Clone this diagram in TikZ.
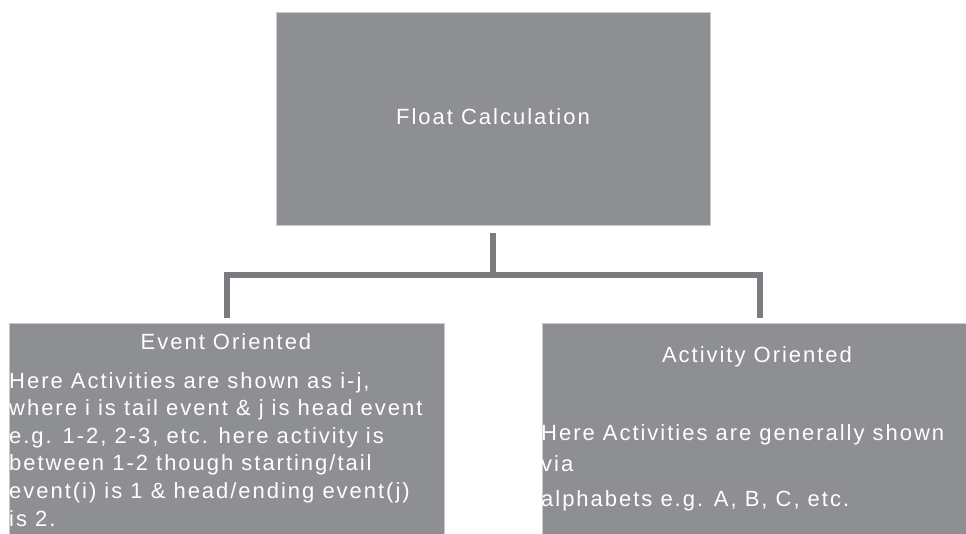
\documentclass[tikz,border=0pt]{standalone}
\usepackage{fontspec}
\setmainfont{Liberation Sans}[LetterSpace=9]
\definecolor{boxgray}{HTML}{8E8F93}
\definecolor{linegray}{HTML}{7B7C80}
\definecolor{edgegray}{HTML}{C9CACC}

\begin{document}
\begin{tikzpicture}[x=1pt, y=-1pt,
  box/.style={fill=boxgray, draw=edgegray, line width=0.8pt, inner sep=0pt, anchor=north west},
  conn/.style={draw=linegray, line width=6pt, line join=miter},
  lbl/.style={text=white, inner sep=0pt, font=\fontsize{22}{27.6}\selectfont},
  body/.style={lbl, align=left, anchor=base west}]
\useasboundingbox (0,0) rectangle (966,533);

% boxes
\node[box, minimum width=434pt, minimum height=213pt] (top) at (276,12) {};
\node[box, minimum width=435pt, minimum height=230pt] (left) at (9,323) {};
\node[box, minimum width=436pt, minimum height=230pt] (right) at (542,323) {};

% connector tree
\coordinate (bar) at (493,275);
\draw[conn] ([yshift=-7pt]top.south) -- (top.south |- bar);
\draw[conn] ([yshift=5pt]left.north) |- (bar) -| ([yshift=5pt]right.north);

% texts
\node[lbl] (toptxt) at (493,117) {Float Calculation};
\node[lbl] (lefttitle) at (226,342) {Event Oriented};
\node[lbl] (righttitle) at (757,357) {Activity Oriented};

% multi-line blocks are placed by the baseline of their last line
\node[body] (lefttxt) at (9,526) {Here Activities are shown as i-j,\\
where i is tail event \& j is head event\\
e.g. 1-2, 2-3, etc. here activity is\\
between 1-2 though starting/tail\\
event(i) is 1 \& head/ending event(j)\\
is 2.};

\node[body, font=\fontsize{22}{31}\selectfont] (righttxt) at (541,506) {Here Activities are generally shown\\
via\\[4pt]
alphabets e.g. A, B, C, etc.};
\end{tikzpicture}
\end{document}
